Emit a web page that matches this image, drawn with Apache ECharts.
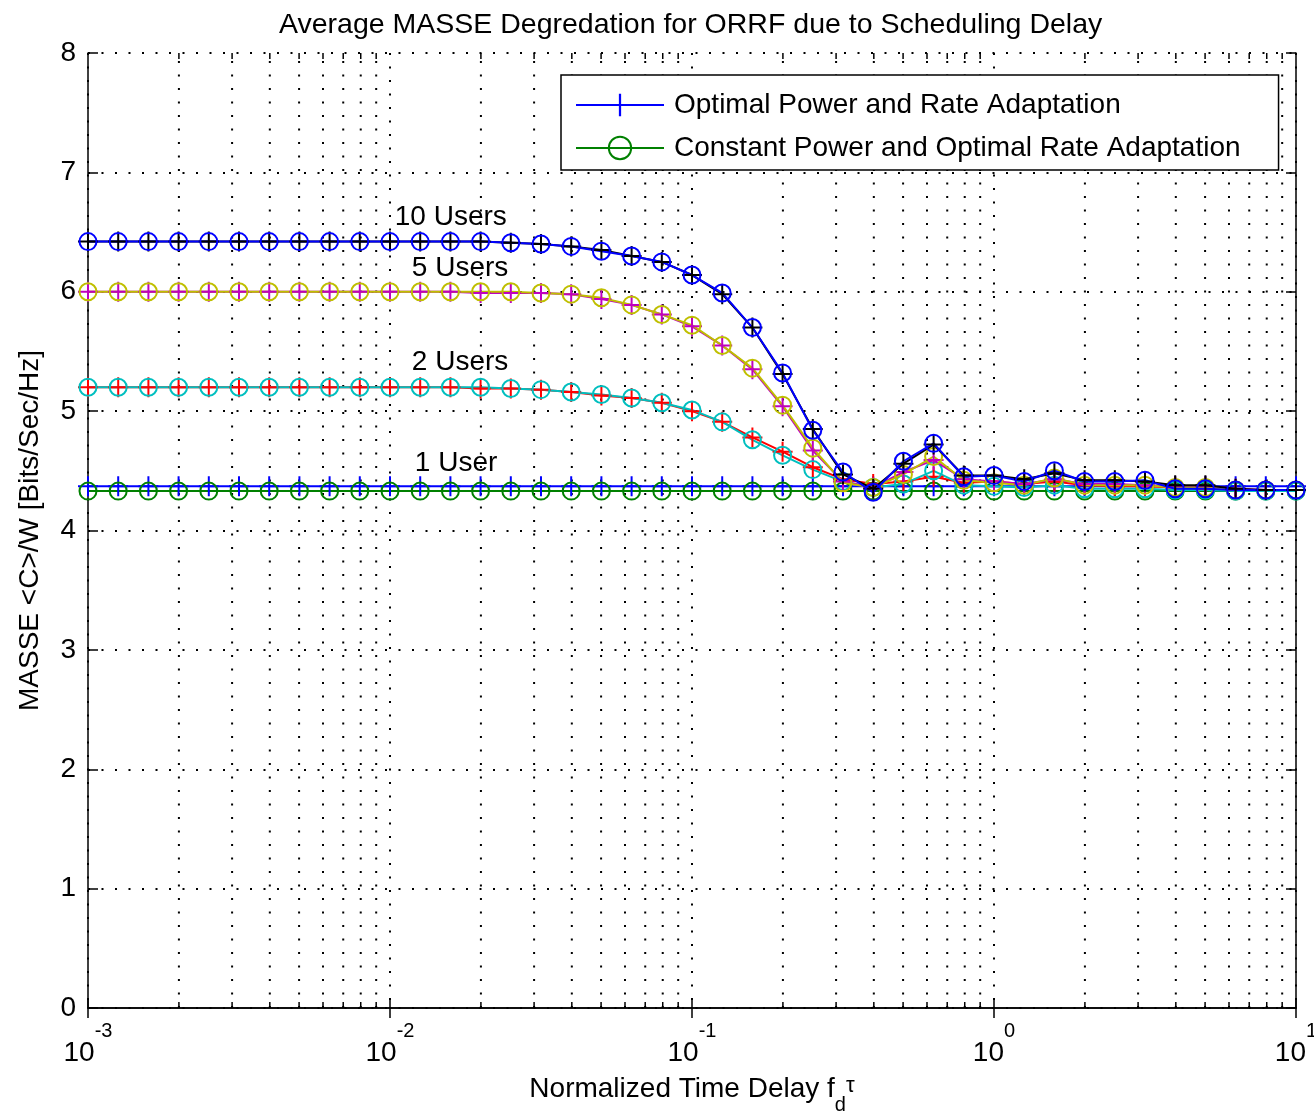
<!DOCTYPE html>
<html><head><meta charset="utf-8">
<script src="https://cdn.jsdelivr.net/npm/echarts@6/dist/echarts.min.js"></script>
<style>html,body{margin:0;padding:0;background:#fff}#c{width:1314px;height:1113px}</style>
</head><body><div id="c"></div>
<script>
const FONT = "'Liberation Sans', Arial, sans-serif";

// normalized time delay f_d*tau (log-spaced sample points)
const xValues = [0.001, 0.001259, 0.001585, 0.001995, 0.002512, 0.003162, 0.003981, 0.005012, 0.00631, 0.007943,
  0.01, 0.01259, 0.01585, 0.01995, 0.02512, 0.03162, 0.03981, 0.05012, 0.0631, 0.07943,
  0.1, 0.1259, 0.1585, 0.1995, 0.2512, 0.3162, 0.3981, 0.5012, 0.631, 0.7943,
  1, 1.259, 1.585, 1.995, 2.512, 3.162, 3.981, 5.012, 6.31, 7.943, 10];

// Optimal power and rate adaptation
const opt1 = [4.37,4.37,4.37,4.37,4.37,4.37,4.37,4.37,4.37,4.37, 4.37,4.37,4.37,4.37,4.37,4.37,4.37,4.37,4.37,4.37,
  4.37,4.37,4.37,4.37,4.37,4.37,4.37,4.37,4.37,4.37, 4.37,4.37,4.37,4.37,4.37,4.37,4.37,4.37,4.37,4.37,4.37];
const opt2 = [5.20,5.20,5.20,5.20,5.20,5.20,5.20,5.20,5.20,5.20, 5.20,5.20,5.20,5.19,5.19,5.18,5.16,5.13,5.11,5.07,
  5.00,4.91,4.78,4.66,4.53,4.43,4.39,4.41,4.45,4.40, 4.41,4.39,4.41,4.38,4.37,4.37,4.36,4.35,4.34,4.34,4.34];
const opt5 = [6.00,6.00,6.00,6.00,6.00,6.00,6.00,6.00,6.00,6.00, 6.00,6.00,6.00,5.99,5.99,5.99,5.98,5.94,5.89,5.81,
  5.71,5.55,5.35,5.04,4.67,4.41,4.36,4.49,4.59,4.43, 4.41,4.39,4.43,4.39,4.39,4.38,4.37,4.37,4.35,4.34,4.34];
const opt10 = [6.42,6.42,6.42,6.42,6.42,6.42,6.42,6.42,6.42,6.42, 6.42,6.42,6.42,6.42,6.41,6.40,6.38,6.35,6.30,6.25,
  6.14,5.98,5.70,5.31,4.85,4.47,4.35,4.56,4.72,4.46, 4.46,4.43,4.48,4.42,4.42,4.41,4.38,4.38,4.35,4.34,4.34];

// Constant power and optimal rate adaptation
const con1 = [4.33,4.33,4.33,4.33,4.33,4.33,4.33,4.33,4.33,4.33, 4.33,4.33,4.33,4.33,4.33,4.33,4.33,4.33,4.33,4.33,
  4.33,4.33,4.33,4.33,4.33,4.33,4.33,4.33,4.33,4.33, 4.33,4.33,4.33,4.33,4.33,4.33,4.33,4.33,4.33,4.33,4.33];
const con2 = [5.20,5.20,5.20,5.20,5.20,5.20,5.20,5.20,5.20,5.20, 5.20,5.20,5.20,5.20,5.19,5.18,5.16,5.14,5.11,5.07,
  5.01,4.91,4.76,4.63,4.51,4.41,4.36,4.39,4.50,4.38, 4.37,4.36,4.38,4.35,4.35,4.35,4.34,4.34,4.33,4.33,4.33];
const con5 = [6.00,6.00,6.00,6.00,6.00,6.00,6.00,6.00,6.00,6.00, 6.00,6.00,6.00,6.00,6.00,5.99,5.98,5.95,5.89,5.81,
  5.72,5.55,5.36,5.05,4.69,4.40,4.36,4.47,4.62,4.42, 4.40,4.38,4.44,4.38,4.38,4.38,4.36,4.36,4.34,4.34,4.34];
const con10 = [6.42,6.42,6.42,6.42,6.42,6.42,6.42,6.42,6.42,6.42, 6.42,6.42,6.42,6.42,6.41,6.40,6.38,6.34,6.30,6.25,
  6.14,5.99,5.70,5.32,4.84,4.49,4.32,4.58,4.73,4.45, 4.46,4.41,4.50,4.41,4.41,4.42,4.35,4.35,4.34,4.34,4.34];

// minor log grid positions (2..9 per decade)
const minorX = [0.002,0.003,0.004,0.005,0.006,0.007,0.008,0.009,
  0.02,0.03,0.04,0.05,0.06,0.07,0.08,0.09,
  0.2,0.3,0.4,0.5,0.6,0.7,0.8,0.9,
  2,3,4,5,6,7,8,9];

// curve annotations [x, y, text]
const annotations = [[0.0159, 6.62, '10 Users'], [0.01706, 6.20, '5 Users'], [0.01706, 5.41, '2 Users'], [0.01655, 4.565, '1 User']];

const legendNames = ['Optimal Power and Rate Adaptation', 'Constant Power and Optimal Rate Adaptation'];

const PLUS = 'path://M-1,-10H1V-1H10V1H1V10H-1V1H-10V-1H-1Z';
const DOT = [2, 11.5];

function lineSeries(name, vals, color, marker, z) {
  const isCircle = marker === 'circle';
  return {
    type: 'line', name: name, z: z,
    data: xValues.map((x, i) => [x, vals[i]]),
    symbol: isCircle ? 'circle' : PLUS,
    symbolSize: isCircle ? 17 : 20,
    showSymbol: true, showAllSymbol: true,
    lineStyle: { color: color, width: 2 },
    itemStyle: isCircle ? { color: 'rgba(0,0,0,0)', borderColor: color, borderWidth: 2 } : { color: color, borderWidth: 0 },
    emphasis: { disabled: true }, silent: true, animation: false
  };
}

const chart = echarts.init(document.getElementById('c'), null, { renderer: 'canvas' });
const axisCommon = {
  type: 'log', logBase: 10, min: 0.001, max: 10, splitNumber: 4
};
chart.setOption({
  animation: false,
  backgroundColor: '#fff',
  title: {
    text: 'Average MASSE Degredation for ORRF due to Scheduling Delay',
    left: 274, top: 6,
    textStyle: { fontSize: 28.5, fontWeight: 'normal', fontFamily: FONT, color: '#000' }
  },
  grid: { left: 88, right: 18, top: 53, bottom: 105, containLabel: false, outerBoundsMode: 'none' },
  legend: {
    data: legendNames, orient: 'vertical', left: 561, top: 75,
    itemWidth: 88, itemHeight: 28, itemGap: 15, padding: [16, 38, 8, 14],
    borderColor: '#000', borderWidth: 1.5, backgroundColor: '#fff', borderRadius: 0,
    textStyle: { fontSize: 28, fontFamily: FONT, color: '#000', padding: [0, 0, 0, 5] },
    selectedMode: false
  },
  xAxis: [
    Object.assign({}, axisCommon, {
      position: 'bottom',
      axisLine: { show: true, lineStyle: { color: '#000', width: 1.5 } },
      axisTick: { show: true, inside: true, length: 10, lineStyle: { color: '#000', width: 1.5 } },
      axisLabel: {
        margin: 13, color: '#000', fontFamily: FONT,
        formatter: v => '{b|10}{s|' + Math.round(Math.log10(v)) + '}',
        rich: {
          b: { fontSize: 28, lineHeight: 46, verticalAlign: 'bottom', fontFamily: FONT, color: '#000' },
          s: { fontSize: 20, lineHeight: 46, verticalAlign: 'top', fontFamily: FONT, color: '#000' }
        }
      },
      splitLine: { show: true, lineStyle: { color: '#000', width: 2, type: DOT } },
      name: '{a|Normalized Time Delay f}{d|d}{t|τ}',
      nameLocation: 'middle', nameGap: 67,
      nameTextStyle: {
        rich: {
          a: { fontSize: 28, lineHeight: 40, verticalAlign: 'top', fontFamily: FONT, color: '#000' },
          d: { fontSize: 20, lineHeight: 40, verticalAlign: 'bottom', fontFamily: FONT, color: '#000' },
          t: { fontSize: 22, lineHeight: 40, verticalAlign: 'top', fontFamily: FONT, color: '#000' }
        }
      }
    }),
    Object.assign({}, axisCommon, {
      position: 'top',
      axisLine: { show: true, lineStyle: { color: '#000', width: 1.5 } },
      axisTick: { show: true, inside: true, length: 10, lineStyle: { color: '#000', width: 1.5 } },
      axisLabel: { show: false }, splitLine: { show: false }
    })
  ],
  yAxis: [
    {
      type: 'value', min: 0, max: 8, interval: 1, position: 'left',
      axisLine: { show: true, lineStyle: { color: '#000', width: 1.5 } },
      axisTick: { show: true, inside: true, length: 10, lineStyle: { color: '#000', width: 1.5 } },
      axisLabel: { fontSize: 28, fontFamily: FONT, color: '#000', margin: 12 },
      splitLine: { show: true, lineStyle: { color: '#000', width: 2, type: DOT } },
      name: 'MASSE <C>/W [Bits/Sec/Hz]', nameLocation: 'middle', nameGap: 44, nameRotate: 90,
      nameTextStyle: { fontSize: 28, fontFamily: FONT, color: '#000' }
    },
    {
      type: 'value', min: 0, max: 8, interval: 1, position: 'right',
      axisLine: { show: true, lineStyle: { color: '#000', width: 1.5 } },
      axisTick: { show: true, inside: true, length: 10, lineStyle: { color: '#000', width: 1.5 } },
      axisLabel: { show: false }, splitLine: { show: false }
    }
  ],
  series: [
    {
      type: 'custom', name: 'minorGrid', silent: true, z: 1,
      data: minorX.map(v => [v, 0]),
      encode: { x: 0, y: 1 },
      clip: false,
      renderItem: function (params, api) {
        const x = api.coord([api.value(0), 0])[0];
        const cs = params.coordSys;
        const top = cs.y, bot = cs.y + cs.height;
        return {
          type: 'group', children: [
            { type: 'line', shape: { x1: x, y1: bot, x2: x, y2: top }, style: { stroke: '#000', lineWidth: 2, lineDash: DOT } },
            { type: 'line', shape: { x1: x, y1: bot, x2: x, y2: bot - 6 }, style: { stroke: '#000', lineWidth: 1.5 } },
            { type: 'line', shape: { x1: x, y1: top, x2: x, y2: top + 6 }, style: { stroke: '#000', lineWidth: 1.5 } }
          ]
        };
      }
    },
    lineSeries(legendNames[0], opt1, '#0000ff', 'plus', 10),
    lineSeries(legendNames[1], con1, '#008000', 'circle', 10),
    lineSeries('opt2', opt2, '#ff0000', 'plus', 11),
    lineSeries('con2', con2, '#00bfbf', 'circle', 11),
    lineSeries('opt5', opt5, '#bf00bf', 'plus', 12),
    lineSeries('con5', con5, '#bfbf00', 'circle', 12),
    lineSeries('opt10', opt10, '#000000', 'plus', 13),
    lineSeries('con10', con10, '#0000ff', 'circle', 13),
    {
      type: 'scatter', name: 'labels', silent: true, z: 20,
      data: annotations, symbolSize: 0,
      itemStyle: { opacity: 1 },
      label: {
        show: true, position: 'inside', formatter: p => p.data[2],
        fontSize: 28, fontFamily: FONT, color: '#000', opacity: 1,
        textBorderWidth: 0, textBorderColor: 'transparent'
      }
    }
  ]
});
</script></body></html>
